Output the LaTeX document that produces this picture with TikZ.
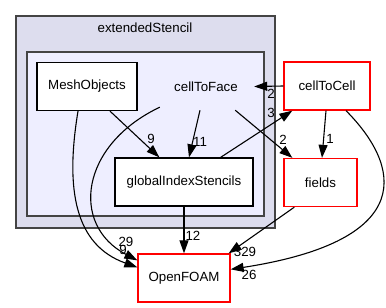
\documentclass[tikz,border=0pt]{standalone}
\usepackage{fontspec}
\setmainfont{Liberation Sans}
\usetikzlibrary{arrows.meta}
\definecolor{clusterouter}{HTML}{DDDDEE}
\definecolor{clusterinner}{HTML}{EEEEFF}
\definecolor{clusterline}{HTML}{444444}
\begin{document}
\begin{tikzpicture}[x=1pt,y=-1pt,
  font=\fontsize{13.3}{16}\selectfont,
  cluster/.style={draw=clusterline, line width=2pt},
  dirbox/.style={draw=black, line width=1.3pt, fill=white, minimum height=48pt, inner sep=0pt},
  extbox/.style={dirbox, draw=red},
  dep/.style={-{Triangle[length=13pt,width=9pt]}, line width=1.1pt},
  num/.style={inner sep=0pt}]
\useasboundingbox (0,0) rectangle (386,308);

% directory clusters
\draw[cluster, fill=clusterouter] (16,16) rectangle (275,228);
\node (title) at (145,28) {extendedStencil};
\draw[cluster, fill=clusterinner] (27,52) rectangle (264,216);

% directories
\node[dirbox, minimum width=100pt] (mo) at (87,86.5) {MeshObjects};
\node[minimum width=96pt, minimum height=47pt, inner sep=0pt] (ctf) at (206,86.5) {cellToFace};
\node[dirbox, minimum width=138pt] (gis) at (184,182) {globalIndexStencils};
\node[extbox, minimum width=86pt] (ctc) at (327,86) {cellToCell};
\node[extbox, minimum width=73pt] (fld) at (320.5,182.5) {fields};
\node[extbox, minimum width=92pt] (of) at (184,278) {OpenFOAM};

% dependencies
\draw[dep] (ctc.west) -- (ctf.east);
\draw[dep] ([xshift=-6pt]ctf.south) -- ([xshift=5pt]gis.north);
\draw[dep] ([xshift=-19pt]ctf.south east) -- ([xshift=9pt]fld.north west);
\draw[dep] ([xshift=2pt,yshift=3pt]ctf.south west) .. controls (80,145) and (70,225) .. ([yshift=-7pt]of.north west);
\draw[dep] ([xshift=23pt]mo.south) -- ([xshift=45pt]gis.north west);
\draw[dep] ([xshift=-9pt]mo.south) .. controls (65,190) and (75,245) .. ([yshift=-14pt]of.north west);
\draw[dep] ([xshift=-33pt]gis.north east) -- ([xshift=9pt]ctc.south west);
\draw[dep] (gis.south) -- (of.north);
\draw[dep] ([xshift=-1pt]ctc.south) -- ([xshift=1.5pt]fld.north);
\draw[dep] ([xshift=19pt]ctc.south) .. controls (400,165) and (420,240) .. ([yshift=-16pt]of.north east);
\draw[dep] ([xshift=11pt]fld.south west) -- ([xshift=-2pt]of.north east);

% dependency counts
\node[num] (n1) at (271,94) {2};
\node[num] (n2) at (200,142) {11};
\node[num] (n3) at (283,140) {2};
\node[num] (n4) at (126,242) {29};
\node[num] (n5) at (151,139) {9};
\node[num] (n6) at (123,250) {9};
\node[num] (n7) at (271,113) {3};
\node[num] (n8) at (193,236) {12};
\node[num] (n9) at (330,139) {1};
\node[num] (n10) at (249,275) {26};
\node[num] (n11) at (245,252) {329};
\end{tikzpicture}
\end{document}
